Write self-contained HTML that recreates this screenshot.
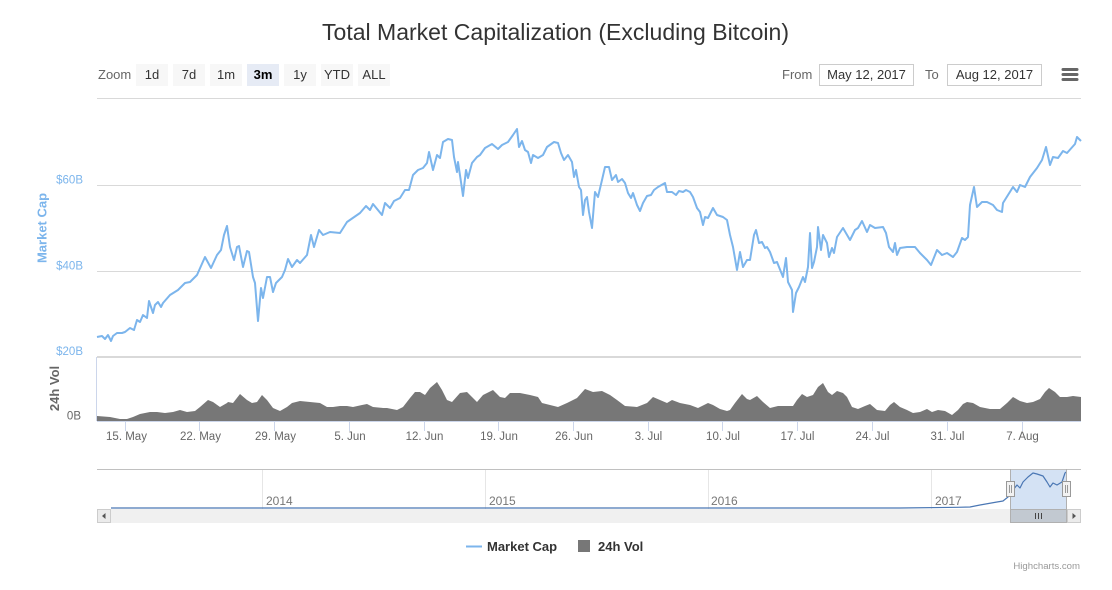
<!DOCTYPE html>
<html><head><meta charset="utf-8"><style>
html,body{margin:0;padding:0;background:#fff;}
svg{display:block;font-family:"Liberation Sans",Arial,sans-serif;}
</style></head><body>
<svg width="1112" height="590" viewBox="0 0 1112 590" xmlns="http://www.w3.org/2000/svg">
<rect width="1112" height="590" fill="#fff"/>
<!-- title -->
<text x="555.5" y="40" text-anchor="middle" font-size="23" fill="#333" textLength="467" lengthAdjust="spacingAndGlyphs">Total Market Capitalization (Excluding Bitcoin)</text>

<!-- range selector -->
<text x="98" y="79" font-size="13" fill="#666">Zoom</text>
<g font-size="13" fill="#333" text-anchor="middle">
<rect x="136" y="64" width="32" height="22" fill="#f7f7f7"/><text x="152" y="79">1d</text>
<rect x="173" y="64" width="32" height="22" fill="#f7f7f7"/><text x="189" y="79">7d</text>
<rect x="210" y="64" width="32" height="22" fill="#f7f7f7"/><text x="226" y="79">1m</text>
<rect x="247" y="64" width="32" height="22" fill="#e6ebf5"/><text x="263" y="79" font-weight="bold" fill="#000">3m</text>
<rect x="284" y="64" width="32" height="22" fill="#f7f7f7"/><text x="300" y="79">1y</text>
<rect x="321" y="64" width="32" height="22" fill="#f7f7f7"/><text x="337" y="79">YTD</text>
<rect x="358" y="64" width="32" height="22" fill="#f7f7f7"/><text x="374" y="79">ALL</text>
</g>
<text x="782" y="79" font-size="13" fill="#666">From</text>
<rect x="819.5" y="64.5" width="94" height="21" fill="#fff" stroke="#ccc"/>
<text x="866.5" y="79" font-size="13" fill="#333" text-anchor="middle">May 12, 2017</text>
<text x="925" y="79" font-size="13" fill="#666">To</text>
<rect x="947.5" y="64.5" width="94" height="21" fill="#fff" stroke="#ccc"/>
<text x="994.5" y="79" font-size="13" fill="#333" text-anchor="middle">Aug 12, 2017</text>
<g stroke="#666" stroke-width="3" stroke-linecap="round">
<line x1="1063" y1="69.5" x2="1077" y2="69.5"/><line x1="1063" y1="74.5" x2="1077" y2="74.5"/><line x1="1063" y1="79.5" x2="1077" y2="79.5"/>
</g>

<!-- gridlines -->
<g stroke="#d9d9d9" stroke-width="1">
<line x1="97" y1="98.5" x2="1081" y2="98.5"/>
<line x1="97" y1="185.5" x2="1081" y2="185.5"/>
<line x1="97" y1="271.5" x2="1081" y2="271.5"/>
</g>
<line x1="97" y1="357" x2="1081" y2="357" stroke="#d9d9d9" stroke-width="2"/>

<!-- y labels -->
<g font-size="11.5" fill="#7cb5ec" text-anchor="end">
<text x="83" y="183.5">$60B</text>
<text x="83" y="269.5">$40B</text>
<text x="83" y="355">$20B</text>
</g>
<text transform="translate(46.5,228) rotate(-90)" text-anchor="middle" font-size="13" font-weight="bold" fill="#7cb5ec">Market Cap</text>
<text transform="translate(59,388.5) rotate(-90)" text-anchor="middle" font-size="13" font-weight="bold" fill="#666">24h Vol</text>
<text x="81" y="419.5" font-size="11.5" fill="#666" text-anchor="end">0B</text>

<!-- volume area -->
<path fill="#777" d="M97,421 L97,416 110,417 120,419 127,419 133,417 140,414 150,412 157,412 165,413 173,412 180,410 187,412 195,411 200,407 208,400 213,402 220,407 227,403 228,402 233,403 240,394 247,400 252,403 257,402 262,395 267,400 273,408 280,411 287,407 292,403 300,401 310,402 320,403 327,407 333,407 340,406 347,406 353,407 362,405 367,404 373,407 383,408 387,408 397,410 403,407 410,398 415,392 420,392 425,395 430,388 437,382 442,390 447,400 452,402 460,393 467,392 472,397 477,402 483,395 493,390 500,397 505,398 510,393 520,393 530,395 538,397 542,403 550,405 558,407 567,403 577,398 585,389 593,392 602,391 610,395 617,400 625,406 637,407 647,403 653,397 660,400 667,403 672,400 680,403 690,405 698,408 708,403 713,405 720,409 727,411 730,410 735,403 742,394 747,399 750,400 757,396 763,402 770,408 778,406 787,406 793,406 797,400 802,394 807,397 813,395 818,387 823,383 828,392 832,395 837,391 843,393 847,397 852,407 858,409 865,406 870,404 877,410 885,411 890,405 894,402 900,407 907,410 913,413 920,412 927,409 932,412 938,410 945,411 952,415 958,410 963,404 967,402 973,403 980,407 990,409 1000,409 1007,403 1013,397 1020,401 1027,403 1033,402 1040,399 1045,392 1049,388 1055,392 1060,397 1067,397 1073,396 1081,397 1081,421 Z"/>

<!-- axes -->
<line x1="96.5" y1="357" x2="96.5" y2="421" stroke="#ccd6eb"/>
<line x1="97" y1="421.5" x2="1081" y2="421.5" stroke="#ccd6eb"/>
<g stroke="#ccd6eb">
<line x1="125.5" y1="421" x2="125.5" y2="431"/>
<line x1="199.5" y1="421" x2="199.5" y2="431"/>
<line x1="274.5" y1="421" x2="274.5" y2="431"/>
<line x1="349.5" y1="421" x2="349.5" y2="431"/>
<line x1="424.5" y1="421" x2="424.5" y2="431"/>
<line x1="498.5" y1="421" x2="498.5" y2="431"/>
<line x1="573.5" y1="421" x2="573.5" y2="431"/>
<line x1="648.5" y1="421" x2="648.5" y2="431"/>
<line x1="722.5" y1="421" x2="722.5" y2="431"/>
<line x1="797.5" y1="421" x2="797.5" y2="431"/>
<line x1="872.5" y1="421" x2="872.5" y2="431"/>
<line x1="947.5" y1="421" x2="947.5" y2="431"/>
<line x1="1022.5" y1="421" x2="1022.5" y2="431"/>
</g>
<g font-size="11.5" fill="#666" text-anchor="middle">
<text x="126.5" y="440">15. May</text>
<text x="200.5" y="440">22. May</text>
<text x="275.5" y="440">29. May</text>
<text x="350" y="440">5. Jun</text>
<text x="424.5" y="440">12. Jun</text>
<text x="499" y="440">19. Jun</text>
<text x="574" y="440">26. Jun</text>
<text x="648.5" y="440">3. Jul</text>
<text x="723" y="440">10. Jul</text>
<text x="797.5" y="440">17. Jul</text>
<text x="872.5" y="440">24. Jul</text>
<text x="947.5" y="440">31. Jul</text>
<text x="1022.5" y="440">7. Aug</text>
</g>

<!-- main line -->
<polyline fill="none" stroke="#7cb5ec" stroke-width="2" stroke-linejoin="round" points="97,337 102,336 105,339 108,335 111,341 113,336 117,333 122,333 125,332 130,328 134,330 137,320 140,322 143,315 147,318 149,301 153,313 155,305 158,302 161,307 163,303 170,295 178,290 185,283 190,282 197,275 205,257 211,268 217,255 221,250 224,235 227,226 230,247 234,260 237,247 239,246 243,267 247,251 249,252 253,277 255,283 258,321 261,288 263,298 267,277 270,277 273,292 276,283 282,277 285,270 288,259 292,267 297,260 300,263 307,255 311,235 314,247 319,230 323,235 330,232 340,233 347,222 360,213 366,206 370,210 373,204 382,215 385,203 390,208 394,201 400,198 405,190 409,190 413,175 418,170 423,168 427,163 429,152 433,170 437,155 440,158 443,142 448,139 452,140 454,157 457,172 458,162 461,182 463,196 466,170 468,178 472,163 477,157 480,155 485,148 492,144 498,149 502,145 508,142 513,135 517,129 519,147 522,141 525,150 528,152 531,163 533,155 538,158 543,155 547,147 554,142 558,143 561,153 564,160 568,155 572,162 574,177 576,170 579,187 581,190 583,215 585,200 587,197 589,212 592,228 595,192 598,197 602,180 605,167 609,167 612,180 616,175 618,182 622,179 625,183 628,193 631,198 633,193 637,205 640,211 643,203 647,196 651,195 654,190 658,187 665,183 667,192 672,192 676,195 679,191 683,192 686,190 690,192 693,197 697,208 700,212 703,225 705,217 708,218 713,208 717,215 723,217 727,220 730,235 733,247 737,270 740,252 743,267 747,260 750,260 754,235 756,230 759,243 762,242 765,248 767,247 770,252 774,263 777,262 781,272 783,277 786,258 788,282 792,290 793,312 796,293 799,287 803,277 805,282 808,267 810,233 812,268 814,262 817,247 818,227 821,250 823,235 827,243 829,257 832,248 834,253 837,237 843,228 850,240 855,230 858,228 862,221 867,232 870,225 875,228 883,227 886,233 889,247 893,252 895,243 897,255 900,248 907,247 915,247 920,253 927,260 931,265 937,250 942,255 947,253 953,257 957,252 962,238 965,240 968,237 970,205 974,187 977,207 982,202 987,202 993,205 997,210 1002,212 1003,203 1008,195 1013,187 1017,192 1020,185 1025,187 1030,177 1037,168 1042,160 1046,147 1050,165 1053,157 1058,158 1063,151 1067,153 1075,144 1077,137 1081,141"/>

<!-- navigator -->
<rect x="1010" y="469" width="56" height="40" fill="#d4e2f4"/>
<g stroke="#e6e6e6">
<line x1="262.5" y1="469" x2="262.5" y2="509"/>
<line x1="485.5" y1="469" x2="485.5" y2="509"/>
<line x1="708.5" y1="469" x2="708.5" y2="509"/>
<line x1="931.5" y1="469" x2="931.5" y2="509"/>
</g>
<g font-size="12" fill="#777">
<text x="266" y="505">2014</text>
<text x="489" y="505">2015</text>
<text x="711" y="505">2016</text>
<text x="935" y="505">2017</text>
</g>
<polyline fill="none" stroke="#4a77b4" stroke-width="1.2" stroke-linejoin="round" points="111,508 900,508 957,507.3 970,507 980,505 997,502 1003,501 1008,497 1013,490 1017,485 1020,488 1023,482 1028,477 1033,473 1037,474 1040,475 1043,476 1047,482 1050,487 1053,483 1057,485 1062,482 1065,473 1066,472"/>
<line x1="97" y1="469.5" x2="1081" y2="469.5" stroke="#c0c0c0"/>
<line x1="1010.5" y1="469" x2="1010.5" y2="523" stroke="#b0b0b0"/>
<line x1="1066.5" y1="469" x2="1066.5" y2="523" stroke="#b0b0b0"/>
<!-- scrollbar -->
<rect x="97" y="509" width="984" height="14" fill="#f0f0f0"/>
<rect x="97.5" y="509.5" width="13" height="13" fill="#ebebeb" stroke="#ccc"/>
<path d="M105.5,513 L102,516 L105.5,519 Z" fill="#555"/>
<rect x="1010.5" y="509.5" width="56" height="13" fill="#c2c9d1" stroke="#b0b0b0"/>
<g stroke="#444"><line x1="1035.5" y1="513" x2="1035.5" y2="519"/><line x1="1038.5" y1="513" x2="1038.5" y2="519"/><line x1="1041.5" y1="513" x2="1041.5" y2="519"/></g>
<rect x="1067.5" y="509.5" width="13" height="13" fill="#ebebeb" stroke="#ccc"/>
<path d="M1072.5,513 L1076,516 L1072.5,519 Z" fill="#555"/>
<!-- handles -->
<rect x="1006.5" y="481.5" width="8" height="15" fill="#f2f2f2" stroke="#999"/>
<g stroke="#999"><line x1="1009.5" y1="485" x2="1009.5" y2="493"/><line x1="1011.5" y1="485" x2="1011.5" y2="493"/></g>
<rect x="1062.5" y="481.5" width="8" height="15" fill="#f2f2f2" stroke="#999"/>
<g stroke="#999"><line x1="1065.5" y1="485" x2="1065.5" y2="493"/><line x1="1067.5" y1="485" x2="1067.5" y2="493"/></g>

<!-- legend -->
<line x1="466" y1="546.5" x2="482" y2="546.5" stroke="#7cb5ec" stroke-width="2"/>
<text x="487" y="551" font-size="13" font-weight="bold" fill="#333">Market Cap</text>
<rect x="578" y="540" width="12" height="12" fill="#777"/>
<text x="598" y="551" font-size="13" font-weight="bold" fill="#333">24h Vol</text>

<text x="1080" y="569" font-size="9.6" fill="#999" text-anchor="end">Highcharts.com</text>
</svg>
</body></html>
